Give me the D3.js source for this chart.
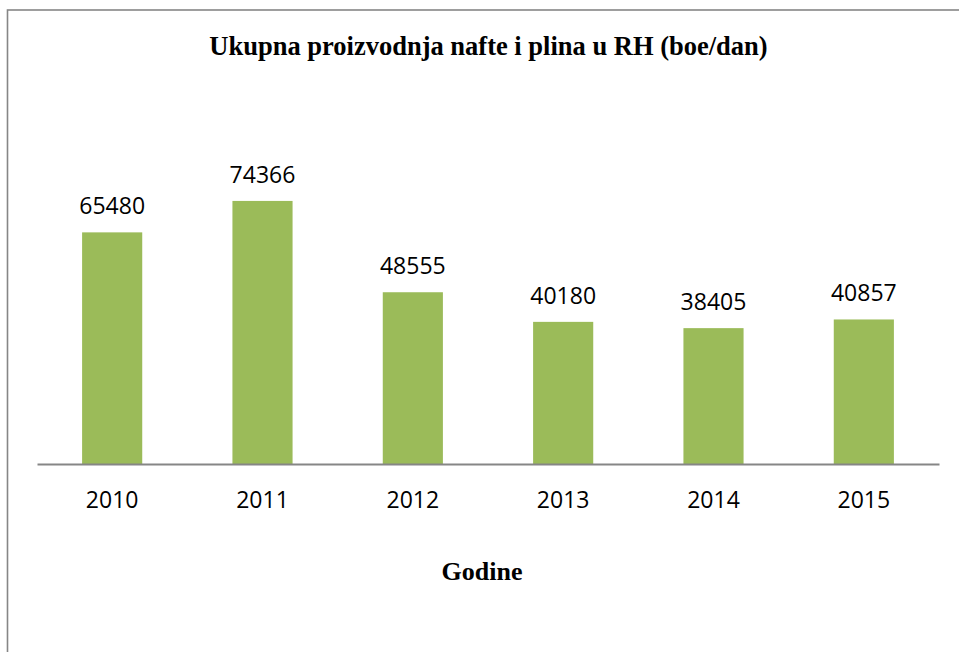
<!DOCTYPE html>
<meta charset="utf-8">
<style>
  body { margin: 0; background: #fff; }
  svg { display: block; }
</style>
<script src="https://d3js.org/d3.v7.min.js"></script>
<div id="chart"></div>
<script>
// data
var years = ["2010", "2011", "2012", "2013", "2014", "2015"];
var production = [65480, 74366, 48555, 40180, 38405, 40857];
var titleText = "Ukupna proizvodnja nafte i plina u RH (boe/dan)";
var xTitle = "Godine";

var W = 959, H = 652;
var margin = {top: 181, left: 37, right: 20, bottom: 188};
var plotW = W - margin.left - margin.right,
    plotH = H - margin.top - margin.bottom;

var svg = d3.select("#chart").append("svg")
    .attr("width", W)
    .attr("height", H);

// outer frame (right/bottom edges fall off the page, like the reference)
svg.append("rect")
    .attr("x", 7.5).attr("y", 10)
    .attr("width", 980).attr("height", 700)
    .attr("fill", "none")
    .attr("stroke", "#868686")
    .attr("stroke-width", 1.6);

var g = svg.append("g")
    .attr("transform", "translate(" + margin.left + "," + margin.top + ")");

var x = d3.scaleBand()
    .domain(years)
    .range([0, plotW])
    .paddingInner(0.6)
    .paddingOuter(0.3);

var y = d3.scaleLinear()
    .domain([0, 80000])
    .range([plotH, 0]);

var data = years.map(function(d, i) { return {year: d, value: production[i]}; });

g.selectAll("rect.bar")
  .data(data)
  .enter().append("rect")
    .attr("class", "bar")
    .attr("x", function(d) { return x(d.year); })
    .attr("y", function(d) { return y(d.value); })
    .attr("width", x.bandwidth())
    .attr("height", function(d) { return plotH - y(d.value); })
    .attr("fill", "#9BBB59");

// value labels
g.selectAll("text.val")
  .data(data)
  .enter().append("text")
    .attr("class", "val")
    .attr("x", function(d) { return x(d.year) + x.bandwidth() / 2; })
    .attr("y", function(d) { return y(d.value) - 18; })
    .attr("text-anchor", "middle")
    .attr("font-family", "'Open Sans', sans-serif")
    .attr("font-size", 23)
    .attr("fill", "#000")
    .text(function(d) { return d.value; });

// x axis
var xAxis = g.append("g")
    .attr("transform", "translate(0," + plotH + ")")
    .call(d3.axisBottom(x).tickSize(0).tickPadding(0).tickSizeOuter(0));
xAxis.select(".domain")
    .attr("stroke", "#868686")
    .attr("stroke-width", 2);
xAxis.selectAll("text")
    .attr("dy", 0)
    .attr("y", 44)
    .attr("font-family", "'Open Sans', sans-serif")
    .attr("font-size", 23)
    .attr("fill", "#000");

// titles
svg.append("text")
    .attr("x", 488.5).attr("y", 55)
    .attr("text-anchor", "middle")
    .attr("font-family", "'Liberation Serif', 'Times New Roman', serif")
    .attr("font-weight", "bold")
    .attr("font-size", 26.5)
    .text(titleText);

svg.append("text")
    .attr("x", 482).attr("y", 579.5)
    .attr("text-anchor", "middle")
    .attr("font-family", "'Liberation Serif', 'Times New Roman', serif")
    .attr("font-weight", "bold")
    .attr("font-size", 26)
    .text(xTitle);
</script>
